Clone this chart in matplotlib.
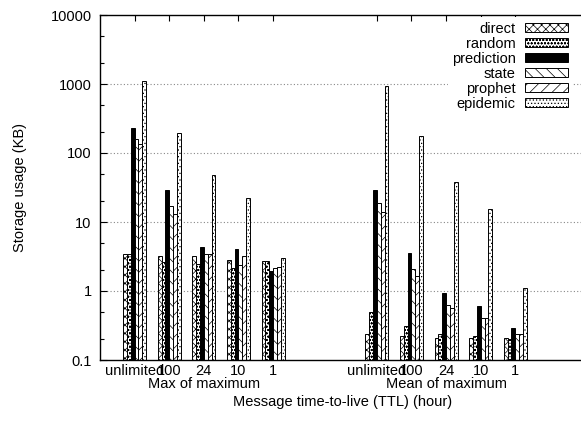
import numpy as np
import matplotlib
matplotlib.use('Agg')
import matplotlib.pyplot as plt
import matplotlib.ticker as mticker

plt.rcParams['font.family'] = ['Liberation Sans', 'DejaVu Sans']
plt.rcParams['hatch.linewidth'] = 0.5

# data (KB)
ttl_labels = ['unlimited', '100', '24', '10', '1']
group_titles = ['Max of maximum', 'Mean of maximum']
methods = ['direct', 'random', 'prediction', 'state', 'prophet', 'epidemic']

max_of_max = {
    'direct':     [3.4, 3.26, 3.2, 2.8, 2.76],
    'random':     [3.4, 2.67, 2.5, 2.13, 2.76],
    'prediction': [234, 28.8, 4.4, 4.0, 1.98],
    'state':      [158, 17.3, 3.4, 2.4, 2.18],
    'prophet':    [137, 13.2, 3.4, 3.26, 2.25],
    'epidemic':   [1090, 198, 48, 22.5, 3.05],
}
mean_of_max = {
    'direct':     [0.24, 0.22, 0.21, 0.21, 0.21],
    'random':     [0.49, 0.31, 0.24, 0.225, 0.20],
    'prediction': [28.8, 3.6, 0.95, 0.61, 0.29],
    'state':      [19, 2.1, 0.63, 0.40, 0.24],
    'prophet':    [13.8, 1.65, 0.57, 0.40, 0.235],
    'epidemic':   [935, 177, 38, 15.6, 1.12],
}

styles = {
    'direct':     dict(facecolor='white', hatch='xxxx'),
    'random':     dict(facecolor='white', hatch='ooooo'),
    'prediction': dict(facecolor='black', hatch=None),
    'state':      dict(facecolor='white', hatch='\\\\\\'),
    'prophet':    dict(facecolor='white', hatch='///'),
    'epidemic':   dict(facecolor='white', hatch='.....'),
}

base = 0.1
fig = plt.figure(figsize=(5.81, 4.24), dpi=100)
ax = fig.add_axes([100/581, 64/424, 484.5/581, 345/424])

x_max = np.arange(5)
x_mean = np.arange(5) + 7
width = 1/9

for i, m in enumerate(methods):
    off = (i - 2.5) * width
    st = styles[m]
    ax.bar(x_max + off, np.array(max_of_max[m]) - base, width, bottom=base, label=m,
           edgecolor='black', linewidth=0.7, **st)
    ax.bar(x_mean + off, np.array(mean_of_max[m]) - base, width, bottom=base,
           edgecolor='black', linewidth=0.7, **st)

ax.set_yscale('log')
ax.set_ylim(0.1, 10000)
ax.set_xlim(-1, 13)

ax.yaxis.set_major_locator(mticker.FixedLocator([0.1, 1, 10, 100, 1000, 10000]))
ax.yaxis.set_major_formatter(mticker.FixedFormatter(['0.1', '1', '10', '100', '1000', '10000']))
ax.yaxis.set_minor_locator(mticker.LogLocator(base=10, subs=(2, 5)))
ax.yaxis.set_minor_formatter(mticker.NullFormatter())
ax.tick_params(axis='y', which='major', direction='in', length=5, width=0.8,
               labelsize=10.5, pad=6, right=False)
ax.tick_params(axis='y', which='minor', direction='in', length=3, width=0.8, right=False)

for v in [1, 10, 100, 1000]:
    ax.axhline(v, color='#888888', linestyle=(0, (1, 2)), linewidth=0.8, zorder=0)

ax.set_xticks(list(x_max) + list(x_mean))
ax.set_xticklabels(ttl_labels + ttl_labels)
ax.tick_params(axis='x', bottom=False, top=True, labelbottom=True, direction='in',
               length=4, width=0.8, labelsize=10.5, pad=3)

ax.spines['right'].set_visible(False)
for s in ['top', 'left', 'bottom']:
    ax.spines[s].set_linewidth(1.0)

for xc, t in zip([2, 9], group_titles):
    ax.text(xc, -28/345, t, transform=ax.get_xaxis_transform(), ha='center',
            va='baseline', fontsize=10.5)

fig.text(342.5/581, (424-402)/424, 'Message time-to-live (TTL) (hour)', ha='center',
         va='center', fontsize=10.5)
fig.text(20/581, (424-188)/424, 'Storage usage (KB)', rotation=90, ha='center',
         va='center', fontsize=10.5)

leg = ax.legend(loc='upper right', bbox_to_anchor=(0.974, 0.993), markerfirst=False,
                frameon=True, fancybox=False, edgecolor='none', facecolor='white',
                framealpha=1, fontsize=10.5, handlelength=2.95, handleheight=0.55,
                handletextpad=0.6, labelspacing=0.07, borderpad=0.3, borderaxespad=0)
for t in leg.get_texts():
    t.set_ha('right')

fig.savefig('out.png', dpi=100)
